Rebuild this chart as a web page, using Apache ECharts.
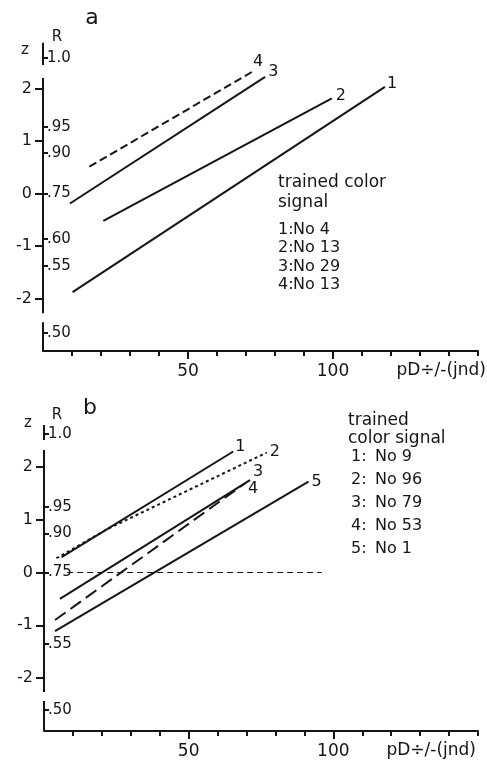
<!DOCTYPE html>
<html>
<head>
<meta charset="utf-8">
<script src="https://cdn.jsdelivr.net/npm/echarts@6/dist/echarts.min.js"></script>
<style>
  html, body { margin: 0; padding: 0; background: #fff; }
  #chart { width: 487px; height: 760px; }
</style>
</head>
<body>
<div id="chart"></div>
<script>
// tick values
const zTicks = [-2, -1, 0, 1, 2];
const xMinorTicks = [10, 20, 30, 40, 50, 60, 70, 80, 90, 100, 110, 120, 130, 140, 150];
const xLabelTicks = [50, 100];
const rLabelsA = ["1.0", ".95", ".90", ".75", ".60", ".55", ".50"];
const rPosA = [2.58, 1.27, 0.77, 0, -0.86, -1.38, -2.65];
const rLabelsB = ["1.0", ".95", ".90", ".75", ".55", ".50"];
const rPosB = [2.62, 1.24, 0.74, 0, -1.35, -2.6];

// axis pieces (z from, z to) - the broken ordinate
const spineA = [[2.45, 2.87], [-2.28, 2.2], [-3, -2.45]];
const spineB = [[2.51, 2.79], [-2.26, 2.32], [-3, -2.43]];

// panel a: [pD, z]
const lineA1 = [[10.2, -1.88], [117.9, 2.03]];
const lineA2 = [[20.8, -0.52], [99.6, 1.81]];
const lineA3 = [[9.3, -0.19], [76.6, 2.22]];
const lineA4 = [[16.0, 0.51], [73.1, 2.35]];
const legendNumA = ["1:", "2:", "3:", "4:"];
const legendSigA = ["No 4", "No 13", "No 29", "No 13"];

// panel b
const lineB1 = [[6.1, 0.29], [65.4, 2.29]];
const lineB2 = [[4.3, 0.27], [22.2, 0.83], [77.0, 2.27]];
const lineB3 = [[5.5, -0.5], [71.2, 1.75]];
const lineB4 = [[3.8, -0.9], [69.5, 1.69]];
const lineB5 = [[3.8, -1.11], [91.4, 1.72]];
const chanceB = [[8, 0], [96, 0]];
const legendNumB = ["1:", "2:", "3:", "4:", "5:"];
const legendSigB = ["No 9", "No 96", "No 79", "No 53", "No 1"];

const FONT = "DejaVu Sans";
const INK = "#151515";

const chart = echarts.init(document.getElementById("chart"));

function xAxes(grid) {
  return [
    {
      gridIndex: grid, type: "value", position: "bottom", min: 0, max: 150,
      axisLine: { show: true, onZero: false, lineStyle: { color: INK, width: 2 } },
      axisTick: { show: true, length: 5, customValues: xMinorTicks, lineStyle: { color: INK, width: 2 } },
      axisLabel: { show: false },
      splitLine: { show: false }
    },
    {
      gridIndex: grid, type: "value", position: "bottom", min: 0, max: 150,
      axisLine: { show: false, onZero: false },
      axisTick: { show: true, length: 8, customValues: xLabelTicks, lineStyle: { color: INK, width: 2 } },
      axisLabel: { show: true, customValues: xLabelTicks, margin: 12, color: INK, fontFamily: FONT, fontSize: 17 },
      splitLine: { show: false }
    }
  ];
}

function yAxes(grid, rPos, rLabels) {
  return [
    {
      gridIndex: grid, type: "value", position: "left", min: -3, max: 3,
      axisLine: { show: false, onZero: false },
      axisTick: { show: true, length: 8, customValues: zTicks, lineStyle: { color: INK, width: 2 } },
      axisLabel: { show: true, customValues: zTicks, margin: 11, color: INK, fontFamily: FONT, fontSize: 16 },
      splitLine: { show: false }
    },
    {
      gridIndex: grid, type: "value", position: "left", min: -3, max: 3,
      axisLine: { show: false, onZero: false },
      axisTick: { show: true, inside: true, length: 5, customValues: rPos, lineStyle: { color: INK, width: 2 } },
      axisLabel: {
        show: true, inside: true, margin: 4, customValues: rPos, color: INK, fontFamily: FONT, fontSize: 15,
        formatter: function (v) {
          let best = 0;
          rPos.forEach(function (p, i) { if (Math.abs(p - v) < Math.abs(rPos[best] - v)) best = i; });
          return rLabels[best];
        }
      },
      splitLine: { show: false }
    }
  ];
}

function spineSeries(spine, xi, yi) {
  return spine.map(function (s) {
    return {
      type: "line", xAxisIndex: xi, yAxisIndex: yi, symbol: "none", clip: false, silent: true,
      lineStyle: { color: INK, width: 2 },
      data: [[0, s[0]], [0, s[1]]]
    };
  });
}

function curve(data, xi, yi, name, dash, offset, width) {
  return {
    type: "line", name: name, xAxisIndex: xi, yAxisIndex: yi, symbol: "none", clip: false,
    lineStyle: { color: INK, width: width || 2, type: dash || "solid" },
    endLabel: {
      show: name !== "", formatter: name, distance: 2, offset: offset || [0, 0],
      color: INK, fontFamily: FONT, fontSize: 16
    },
    data: data
  };
}

function text(x, y, str, size, align) {
  return {
    type: "text", x: x, y: y,
    style: {
      text: str, fill: INK, font: (size || 16) + "px '" + FONT + "'",
      textAlign: align || "left", textVerticalAlign: "middle"
    }
  };
}

const legendRowsA = [230, 248, 266.5, 285];
const legendRowsB = [457, 480, 503, 526, 548.5];

const graphics = [
  text(92, 18, "a", 22, "center"),
  text(25, 50, "z", 15, "center"),
  text(57, 37, "R", 15, "center"),
  text(278, 183, "trained color", 17),
  text(278, 203, "signal", 17),
  text(486, 371, "pD÷/-(jnd)", 17, "right"),
  text(90, 408, "b", 22, "center"),
  text(28, 423, "z", 15, "center"),
  text(57, 415, "R", 15, "center"),
  text(348, 421, "trained", 17),
  text(348, 439, "color signal", 17),
  text(476, 751, "pD÷/-(jnd)", 17, "right")
];
legendNumA.forEach(function (t, i) { graphics.push(text(278, legendRowsA[i], t, 16)); });
legendSigA.forEach(function (t, i) { graphics.push(text(293, legendRowsA[i], t, 16)); });
legendNumB.forEach(function (t, i) { graphics.push(text(351, legendRowsB[i], t, 16)); });
legendSigB.forEach(function (t, i) { graphics.push(text(375, legendRowsB[i], t, 16)); });

const option = {
  backgroundColor: "#ffffff",
  animation: false,
  grid: [
    { left: 43, top: 36, width: 435, height: 315 },
    { left: 44, top: 414, width: 434, height: 318 }
  ],
  xAxis: xAxes(0).concat(xAxes(1)),
  yAxis: yAxes(0, rPosA, rLabelsA).concat(yAxes(1, rPosB, rLabelsB)),
  graphic: graphics,
  series: []
    .concat(spineSeries(spineA, 0, 0))
    .concat(spineSeries(spineB, 2, 2))
    .concat([
      curve(lineA1, 0, 0, "1", "solid", [0, -3]),
      curve(lineA2, 0, 0, "2", "solid", [2, -3]),
      curve(lineA3, 0, 0, "3", "solid", [1, -5]),
      curve(lineA4, 0, 0, "4", [8, 4], [-4, -8]),
      curve(chanceB, 2, 2, "", [6, 4], null, 1),
      curve(lineB1, 2, 2, "1", "solid", [0, -5]),
      curve(lineB2, 2, 2, "2", [3, 3], [1, -1]),
      curve(lineB3, 2, 2, "3", "solid", [1, -8]),
      curve(lineB4, 2, 2, "4", [13, 6], [1, 6]),
      curve(lineB5, 2, 2, "5", "solid", [1, 0])
    ])
};

chart.setOption(option);
</script>
</body>
</html>
